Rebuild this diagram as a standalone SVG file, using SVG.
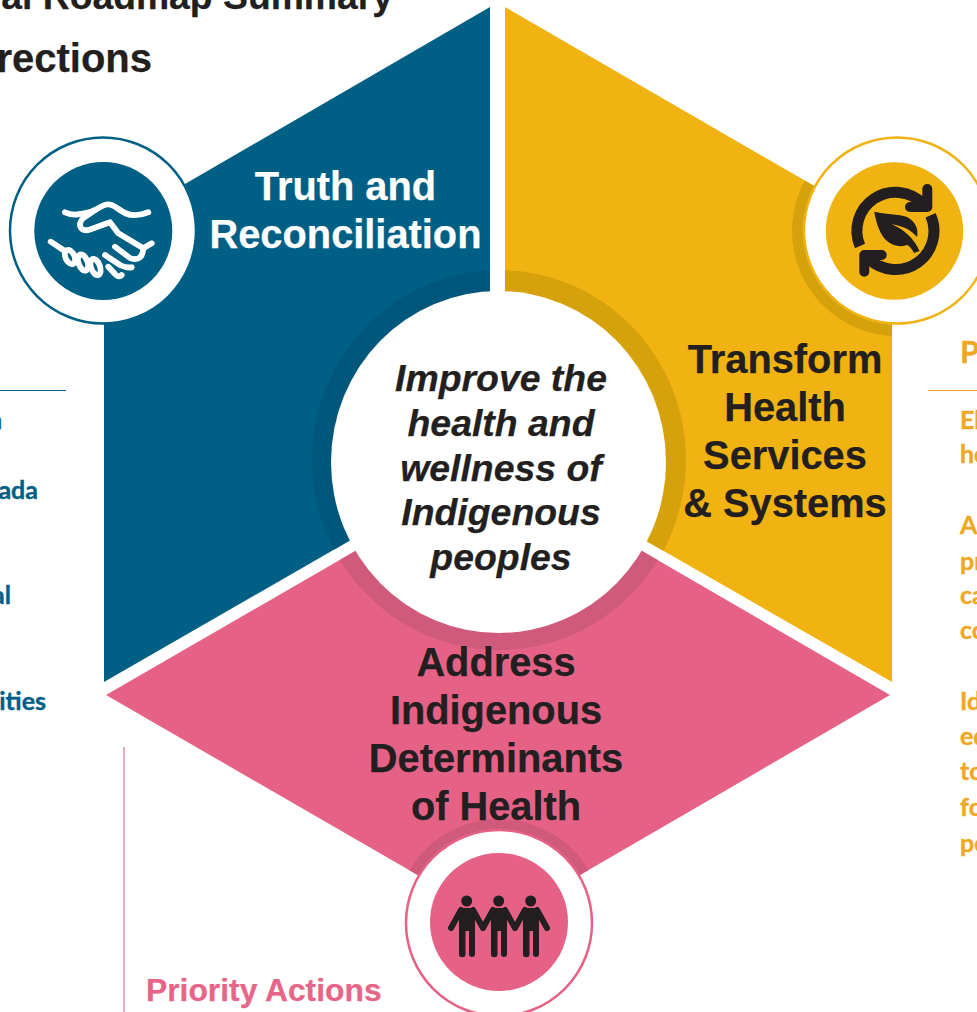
<svg xmlns="http://www.w3.org/2000/svg" width="977" height="1012" viewBox="0 0 977 1012">
<style>
.h{font-family:"Liberation Sans",Arial,sans-serif;font-weight:700;fill:#231f20;stroke:#231f20;stroke-width:.25}
.c{text-anchor:middle;font-size:39.800px}
.i{text-anchor:middle;font-style:italic;font-size:37.4px}
.wt{fill:#fff;stroke:#fff}
.s{font-family:Lato,"Open Sans",sans-serif;font-weight:700;font-size:25px;stroke-width:.4}
.b{fill:#005f85;stroke:#005f85;text-anchor:end}
.y{fill:#efa823;stroke:#efa823}
.w{fill:#fff}
.hs{fill:none;stroke:#fff;stroke-width:5.800;stroke-linecap:round;stroke-linejoin:round}
.lf{fill:none;stroke:#231f20;stroke-width:10;stroke-linecap:round;stroke-linejoin:round}
.ring{fill:none;stroke:#231f20;stroke-width:11}
</style>
<defs>
<clipPath id="cb"><polygon points="490,7 490,470 349,541 104,682 104,231"/></clipPath>
<clipPath id="cy"><polygon points="505,7 892,231 892,682 648,542 505,470"/></clipPath>
<clipPath id="cp"><polygon points="106,695 499,468 890,695 499,922"/></clipPath>
</defs>
<g id="title">
<text class="h" x="393" y="9" font-size="37.300" text-anchor="end">al Roadmap Summary</text>
<text class="h" x="152" y="72" font-size="40" text-anchor="end">rections</text>
</g>
<g id="left-panel">
<line x1="0" y1="390.500" x2="66" y2="390.500" stroke="#005f85" stroke-width="1"/>
<text class="s b" x="2" y="429">n</text>
<text class="s b" x="38" y="499">ada</text>
<text class="s b" x="11" y="604">al</text>
<text class="s b" x="46" y="710">ities</text>
</g>
<g id="right-panel">
<line x1="928" y1="390.500" x2="977" y2="390.500" stroke="#efa823" stroke-width="1"/>
<text class="s y" x="960" y="363" style="font-size:31px">P</text>
<text class="s y" x="960" y="429">El</text>
<text class="s y" x="960" y="463">he</text>
<text class="s y" x="960" y="534">A</text>
<text class="s y" x="960" y="570">pr</text>
<text class="s y" x="960" y="604">ca</text>
<text class="s y" x="960" y="639">co</text>
<text class="s y" x="960" y="710">Id</text>
<text class="s y" x="960" y="745">ed</text>
<text class="s y" x="960" y="780">to</text>
<text class="s y" x="960" y="816">fo</text>
<text class="s y" x="960" y="852">pe</text>
</g>
<g id="bottom-panel">
<line x1="124" y1="747" x2="124" y2="1012" stroke="#d9789c" stroke-width="1.200"/>
<text class="h" x="146" y="1001" font-size="31.800" style="fill:#e8658a;stroke:#e8658a">Priority Actions</text>
</g>
<g id="truth-segment">
<polygon points="490,7 490,470 349,541 104,682 104,231" fill="#005f85"/>
<ellipse cx="499" cy="460" rx="187" ry="190" fill="#00577b" clip-path="url(#cb)"/>
</g>
<g id="transform-segment">
<polygon points="505,7 892,231 892,682 648,542 505,470" fill="#f1b312"/>
<g clip-path="url(#cy)">
<ellipse cx="499" cy="460" rx="187" ry="190" fill="#d6a20c"/>
<circle cx="897" cy="231" r="105" fill="#d6a20c"/>
</g>
</g>
<g id="determinants-segment">
<polygon points="106,695 499,468 890,695 499,922" fill="#e66186"/>
<g clip-path="url(#cp)">
<ellipse cx="499" cy="460" rx="187" ry="190" fill="#cf5a7c"/>
<circle cx="499" cy="923" r="104" fill="#cf5a7c"/>
</g>
</g>
<g id="center">
<ellipse cx="498.500" cy="462" rx="167.500" ry="171" class="w"/>
<text class="h i" x="501" y="391">Improve the</text>
<text class="h i" x="501" y="436">health and</text>
<text class="h i" x="501" y="480.500">wellness of</text>
<text class="h i" x="501" y="525">Indigenous</text>
<text class="h i" x="501" y="569.500">peoples</text>
</g>
<g id="truth-label">
<text class="h c wt" x="345.500" y="200">Truth and</text>
<text class="h c wt" x="345.500" y="248">Reconciliation</text>
</g>
<g id="transform-label">
<text class="h c" x="785" y="373">Transform</text>
<text class="h c" x="785" y="421">Health</text>
<text class="h c" x="785" y="469">Services</text>
<text class="h c" x="785" y="517">&amp; Systems</text>
</g>
<g id="determinants-label">
<text class="h c" x="496" y="676">Address</text>
<text class="h c" x="496" y="724">Indigenous</text>
<text class="h c" x="496" y="772">Determinants</text>
<text class="h c" x="496" y="820">of Health</text>
</g>
<g id="truth-icon">
<circle cx="103" cy="230.500" r="93" fill="#fff" stroke="#005f85" stroke-width="2.500"/>
<circle cx="103.300" cy="231" r="69" fill="#005f85"/>
<path class="hs" d="M65,212.300 C69,214 73,215 77,214.500 C84,213.500 90,212.500 95,210 C100,207 104,204.300 108.300,204.300 C113,204.300 116,207.500 120,210 C125,213.500 129,215 133,215 C139,215.500 144,214 148.300,212.300"/>
<path class="hs" d="M95,210 L84,217.500 C80,220.500 79,225 81,228 C83,230.500 87,230.500 90,229.500 L110,222.300 L118.300,233.300 L143.300,248.300 L151.700,243.300"/>
<path class="hs" d="M143.300,248.300 C143,253 142,257 138,258.500 C135,259.500 132,259 130,258 L115,246.700"/>
<path class="hs" d="M105,255 L120,265 C124,267 128,268 131.700,267.300"/>
<path class="hs" d="M108.300,266.700 L115,274 C117,277 120,277 121.700,275"/>
<path class="hs" d="M50.700,241.700 L63.300,250"/>
<ellipse class="hs" cx="70" cy="257" rx="4.500" ry="7.500" transform="rotate(-25 70 257)"/>
<ellipse class="hs" cx="83" cy="262.500" rx="4.500" ry="8.500" transform="rotate(-20 83 262.500)"/>
<ellipse class="hs" cx="95.500" cy="267" rx="4.500" ry="8.500" transform="rotate(-20 95.500 267)"/>
</g>
<g id="transform-icon">
<circle cx="897" cy="230.500" r="93" fill="#fff" stroke="#f1b312" stroke-width="2.500"/>
<circle cx="894.500" cy="231" r="68.700" fill="#f1b312"/>
<path class="ring" d="M860,246 A38.500,38.500 0 0 1 923,204"/>
<path class="ring" d="M930.600,215.300 A38.500,38.500 0 0 1 869,259"/>
<path class="lf" d="M927.300,189 V207 H910"/>
<path class="lf" d="M864.300,271.700 V255 H881.700"/>
<path d="M874.300,211.700 C884,214 899,214 907,217 C915,221 919,229 917,237 C911,230 903,226 891.700,224.300 C903,229 914,238 919.500,251 L914,253 C912,249 910,247 907.500,245 C899,248 890,245 884,238 C879,231 876,222 874.300,211.700Z" fill="#231f20"/>
</g>
<g id="determinants-icon">
<circle cx="499" cy="923" r="93" fill="#fff" stroke="#e66186" stroke-width="2.500"/>
<circle cx="499" cy="922" r="69" fill="#e66186"/>
<g id="people" fill="#231f20">
<circle cx="466.700" cy="901" r="5.500"/><circle cx="498.700" cy="901" r="5.500"/><circle cx="530.700" cy="901" r="5.500"/>
<path d="M460,908 H474 Q475,908 475,910 V954 A3,3 0 0 1 469,954 V931 H465.500 V954 A3,3 0 0 1 459,954 V910 Q459,908 460,908Z"/>
<path d="M492,908 H506 Q507,908 507,910 V954 A3,3 0 0 1 501,954 V931 H497.500 V954 A3,3 0 0 1 491,954 V910 Q491,908 492,908Z"/>
<path d="M524,908 H538 Q539,908 539,910 V954 A3,3 0 0 1 533,954 V931 H529.500 V954 A3,3 0 0 1 523,954 V910 Q523,908 524,908Z"/>
<path d="M461,910 L451,928 M473,910 L483,928 L493,910 M505,910 L515,928 L525,910 M537,910 L547,928" fill="none" stroke="#231f20" stroke-width="6" stroke-linecap="round" stroke-linejoin="round"/>
</g>
</g>
</svg>
